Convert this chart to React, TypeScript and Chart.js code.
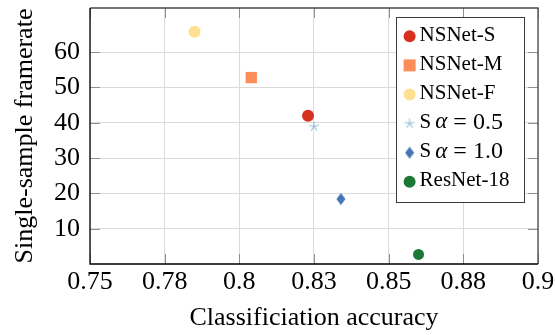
import React, { useEffect, useRef } from "react";
import { Chart, registerables } from "chart.js";

Chart.register(...registerables);

// ---- data ----
const seriesLabels = ["NSNet-S", "NSNet-M", "NSNet-F", "S α = 0.5", "S α = 1.0", "ResNet-18"];
const accuracy = [0.823, 0.804, 0.785, 0.825, 0.834, 0.86];
const framerate = [42.0, 52.8, 65.8, 38.9, 18.4, 2.7];
const seriesColors = ["#d7301f", "#fc8d59", "#fee090", "#91bfdb", "#4575b4", "#1b7837"];
const seriesMarkers = ["circle", "rect", "circle", "star5", "diamond", "circle"];
const xTickValues = [0.75, 0.775, 0.8, 0.825, 0.85, 0.875, 0.9];
const xTickLabels = ["0.75", "0.78", "0.8", "0.83", "0.85", "0.88", "0.9"];
const yTickValues = [10, 20, 30, 40, 50, 60];
const yTickLabels = ["10", "20", "30", "40", "50", "60"];
const xTitle = "Classificiation accuracy";
const yTitle = "Single-sample framerate";

const FONT = "'Liberation Serif', 'Times New Roman', serif";

function makeStar(color: string): HTMLCanvasElement {
  const c = document.createElement("canvas");
  c.width = 12;
  c.height = 12;
  const g = c.getContext("2d")!;
  g.strokeStyle = color;
  g.lineWidth = 1.1;
  g.beginPath();
  for (let k = 0; k < 5; k++) {
    const a = -Math.PI / 2 + (k * 2 * Math.PI) / 5;
    g.moveTo(6, 6);
    g.lineTo(6 + 5 * Math.cos(a), 6 + 5 * Math.sin(a));
  }
  g.stroke();
  return c;
}

function makeDiamond(color: string): HTMLCanvasElement {
  const c = document.createElement("canvas");
  c.width = 10;
  c.height = 13;
  const g = c.getContext("2d")!;
  g.fillStyle = color;
  g.beginPath();
  g.moveTo(5, 0.5);
  g.lineTo(9.5, 6.5);
  g.lineTo(5, 12.5);
  g.lineTo(0.5, 6.5);
  g.closePath();
  g.fill();
  return c;
}

export default function App() {
  const ref = useRef<HTMLCanvasElement | null>(null);

  useEffect(() => {
    if (!ref.current) return;
    const styleFor = (m: string, color: string): any => {
      if (m === "star5") return makeStar(color);
      if (m === "diamond") return makeDiamond(color);
      return m;
    };
    const styles = seriesMarkers.map((m, i) => styleFor(m, seriesColors[i]));
    const pointRadii = [6, 8, 6, 6, 6, 5.5];

    const drawMarker = (ctx: CanvasRenderingContext2D, i: number, x: number, y: number) => {
      const st = styles[i];
      ctx.save();
      ctx.fillStyle = seriesColors[i];
      if (st === "circle") {
        ctx.beginPath();
        ctx.arc(x, y, 6, 0, Math.PI * 2);
        ctx.fill();
      } else if (st === "rect") {
        ctx.fillRect(x - 6, y - 6, 12, 12);
      } else {
        ctx.drawImage(st, x - st.width / 2, y - st.height / 2);
      }
      ctx.restore();
    };

    const framePlugin = {
      id: "frame",
      beforeDatasetsDraw(chart: any) {
        const { ctx, chartArea: a, scales } = chart;
        ctx.save();
        // inner tick marks
        ctx.strokeStyle = "#8f8f8f";
        ctx.lineWidth = 1;
        const tl = 10;
        xTickValues.forEach((v) => {
          const px = Math.round(scales.x.getPixelForValue(v)) + 0.5;
          ctx.beginPath();
          ctx.moveTo(px, a.top);
          ctx.lineTo(px, a.top + tl);
          ctx.moveTo(px, a.bottom);
          ctx.lineTo(px, a.bottom - tl);
          ctx.stroke();
        });
        yTickValues.forEach((v) => {
          const py = Math.round(scales.y.getPixelForValue(v)) + 0.5;
          ctx.beginPath();
          ctx.moveTo(a.left, py);
          ctx.lineTo(a.left + tl, py);
          ctx.moveTo(a.right, py);
          ctx.lineTo(a.right - tl, py);
          ctx.stroke();
        });
        // box
        ctx.lineWidth = 1.3;
        ctx.strokeStyle = "#4a4a4a";
        ctx.beginPath();
        ctx.moveTo(a.left, a.top);
        ctx.lineTo(a.right, a.top);
        ctx.lineTo(a.right, a.bottom);
        ctx.stroke();
        ctx.strokeStyle = "#000";
        ctx.beginPath();
        ctx.moveTo(a.left, a.top);
        ctx.lineTo(a.left, a.bottom);
        ctx.lineTo(a.right, a.bottom);
        ctx.stroke();
        ctx.restore();
      },
      afterDraw(chart: any) {
        const { ctx, chartArea: a } = chart;
        const w = 128;
        const h = 185;
        const left = a.right - 14 - w;
        const top = a.top + 9;
        ctx.save();
        ctx.fillStyle = "#fff";
        ctx.fillRect(left, top, w, h);
        ctx.strokeStyle = "#3a3a3a";
        ctx.lineWidth = 1;
        ctx.strokeRect(Math.round(left) + 0.5, Math.round(top) + 0.5, w, h);
        const rowH = 29.1;
        seriesLabels.forEach((label, i) => {
          const y = top + 19.3 + i * rowH;
          drawMarker(ctx, i, left + 13.6, y);
          ctx.fillStyle = "#000";
          ctx.textBaseline = "middle";
          ctx.textAlign = "left";
          let x = left + 23.6;
          const ty = y - 1.2;
          const parts = label.split("α");
          ctx.font = `21px ${FONT}`;
          if (parts.length === 1) {
            ctx.fillText(label, x, ty);
            return;
          }
          const pre = parts[0].trim();
          ctx.fillText(pre, x, ty);
          x += ctx.measureText(pre).width + 4;
          ctx.font = `italic 23px ${FONT}`;
          ctx.fillText("α", x, ty);
          x += ctx.measureText("α").width + 6;
          const rest = parts[1].trim().split(/\s+/); // ["=", "0.5"]
          ctx.font = `24px ${FONT}`;
          ctx.fillText(rest[0], x, ty);
          x += ctx.measureText(rest[0]).width + 6;
          ctx.fillText(rest.slice(1).join(" "), x, ty);
        });
        ctx.restore();
      },
    };

    const chart = new Chart(ref.current, {
      type: "scatter",
      data: {
        datasets: seriesLabels.map((label, i) => ({
          label,
          data: [{ x: accuracy[i], y: framerate[i] }],
          backgroundColor: seriesColors[i],
          borderColor: seriesColors[i],
          borderWidth: 0,
          pointStyle: styles[i],
          pointRadius: pointRadii[i],
          pointHoverRadius: pointRadii[i],
        })),
      },
      options: {
        responsive: false,
        animation: false,
        devicePixelRatio: 1,
        layout: { padding: { left: 0, right: 17, top: 5, bottom: 0 } },
        plugins: { legend: { display: false }, tooltip: { enabled: false } },
        scales: {
          x: {
            type: "linear",
            min: 0.75,
            max: 0.9,
            afterBuildTicks: (s: any) => {
              s.ticks = xTickValues.map((v) => ({ value: v }));
            },
            afterFit: (s: any) => {
              s.height = 71;
              s.paddingLeft = 0;
              s.paddingRight = 0;
            },
            ticks: {
              callback: (_v: any, i: number) => xTickLabels[i],
              font: { family: FONT, size: 26 },
              color: "#000",
              padding: 3,
              maxRotation: 0,
              autoSkip: false,
            },
            grid: { color: "#dadada", lineWidth: 1, drawTicks: false },
            border: { display: false },
            title: {
              display: true,
              text: xTitle,
              color: "#000",
              font: { family: FONT, size: 26 },
              padding: { top: 0, bottom: 1 },
            },
          },
          y: {
            type: "linear",
            min: 0,
            max: 72.5,
            afterBuildTicks: (s: any) => {
              s.ticks = yTickValues.map((v) => ({ value: v }));
            },
            afterFit: (s: any) => {
              s.width = 90;
              s.paddingTop = 0;
              s.paddingBottom = 0;
            },
            ticks: {
              callback: (_v: any, i: number) => yTickLabels[i],
              font: { family: FONT, size: 26 },
              color: "#000",
              padding: 10,
              autoSkip: false,
            },
            grid: { color: "#dadada", lineWidth: 1, drawTicks: false },
            border: { display: false },
            title: {
              display: true,
              text: yTitle,
              color: "#000",
              font: { family: FONT, size: 26 },
              padding: { top: 10, bottom: 0 },
            },
          },
        },
      },
      plugins: [framePlugin],
    } as any);

    return () => chart.destroy();
  }, []);

  return (
    <canvas
      ref={ref}
      width={555}
      height={335}
      style={{ position: "absolute", left: 0, top: 0, width: 555, height: 335, display: "block" }}
    />
  );
}
